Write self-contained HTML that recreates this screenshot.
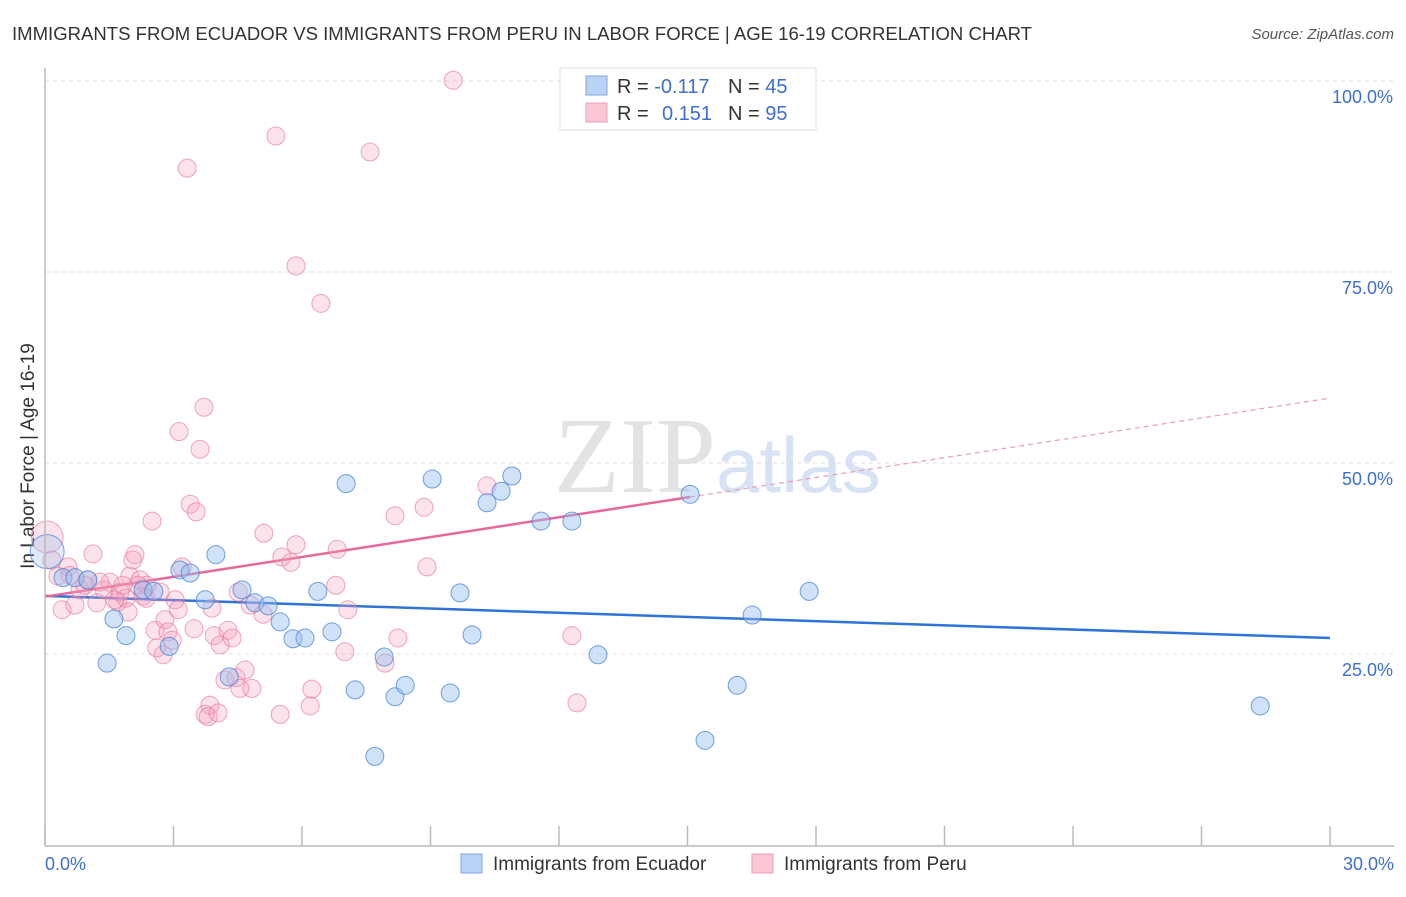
<!DOCTYPE html>
<html><head><meta charset="utf-8"><style>
body{margin:0;background:#fff;font-family:"Liberation Sans",sans-serif}
</style></head><body>
<svg id="c" width="1406" height="892" xmlns="http://www.w3.org/2000/svg">
<text x="12" y="40" font-size="18" fill="#333" textLength="1020" lengthAdjust="spacingAndGlyphs">IMMIGRANTS FROM ECUADOR VS IMMIGRANTS FROM PERU IN LABOR FORCE | AGE 16-19 CORRELATION CHART</text>
<text x="1394" y="39" font-size="15" fill="#555" font-style="italic" text-anchor="end">Source: ZipAtlas.com</text>
<text x="716" y="492" font-size="108" fill="#e3e3e3" text-anchor="end" font-family="Liberation Serif,serif">ZIP</text>
<text x="716" y="492" font-size="78" fill="#d6e3f5">atlas</text>
<text transform="translate(34,456) rotate(-90)" font-size="19" fill="#333" text-anchor="middle">In Labor Force | Age 16-19</text>
<g id="grid"></g><g id="trend"></g><g id="pts"></g>
<line x1="45" y1="68" x2="45" y2="846" stroke="#bbb" stroke-width="1.5"/>
<line x1="45" y1="846" x2="1394" y2="846" stroke="#bbb" stroke-width="1.5"/>
<text x="45" y="870" font-size="18" fill="#3d6fd1">0.0%</text>
<text x="1394" y="870" font-size="18" fill="#3d6fd1" text-anchor="end">30.0%</text>
<g>
<rect x="560" y="68" width="256" height="62" fill="#fff" stroke="#ddd"/>
<rect x="586" y="76" width="21" height="19" fill="#b9d3f5" stroke="#7ea6e0"/>
<rect x="586" y="103" width="21" height="19" fill="#fbc6d6" stroke="#ee9db6"/>
<text x="617" y="93" font-size="20" fill="#333">R = <tspan fill="#3d6fd1">-0.117</tspan><tspan x="728">N = </tspan><tspan fill="#3d6fd1">45</tspan></text>
<text x="617" y="120" font-size="20" fill="#333">R = <tspan x="662" fill="#3d6fd1">0.151</tspan><tspan x="728">N = </tspan><tspan fill="#3d6fd1">95</tspan></text>
</g>
<g>
<rect x="461" y="854" width="21" height="19" fill="#b9d3f5" stroke="#7ea6e0"/>
<text x="493" y="870" font-size="19" fill="#333">Immigrants from Ecuador</text>
<rect x="752" y="854" width="21" height="19" fill="#fbc6d6" stroke="#ee9db6"/>
<text x="784" y="870" font-size="19" fill="#333">Immigrants from Peru</text>
</g>
</svg>
<script>
const yTicks=[25,50,75,100];
const xTicks=[0,3,6,9,12,15,18,21,24,27,30];
const ecuX=[0.05,0.42,0.70,1.0,1.45,1.61,1.89,2.29,2.54,2.90,3.15,3.39,3.74,3.99,4.30,4.60,4.90,5.21,5.49,5.79,6.07,6.37,6.70,7.03,7.24,7.92,8.17,8.41,9.04,9.46,9.69,9.97,10.32,10.65,10.90,11.58,12.30,12.91,15.06,15.41,16.16,16.51,17.84,28.37,7.70];
const ecuY=[38.4,35.0,35.0,34.7,23.8,29.6,27.4,33.4,33.2,26.0,36.0,35.6,32.1,38.0,22.0,33.4,31.7,31.3,29.2,27.0,27.1,33.2,27.9,47.3,20.3,24.6,19.4,20.9,47.9,19.9,33.0,27.5,44.8,46.3,48.3,42.4,42.4,24.9,45.9,13.7,20.9,30.1,33.2,18.2,11.6];
const peruX=[0.05,0.16,0.30,0.40,0.54,0.70,0.82,1.0,1.12,1.21,1.38,1.52,1.70,1.75,1.89,1.98,2.05,2.10,2.22,2.29,2.38,2.50,2.57,2.61,2.76,2.80,2.87,2.97,3.04,3.11,3.20,3.32,3.39,3.53,3.62,3.71,3.13,3.48,3.90,3.95,4.09,4.20,4.27,4.37,4.46,4.55,4.67,4.83,3.74,3.85,3.81,4.04,4.51,4.79,5.11,5.39,5.53,5.74,5.86,5.49,5.86,6.23,6.19,6.44,6.79,6.82,7.00,7.07,7.59,7.94,8.17,8.24,8.92,8.85,9.53,10.32,12.30,12.42,0.58,0.93,1.28,1.63,1.94,2.17,1.82,2.69,2.36,5.09];
const peruY=[40.3,37.3,35.2,30.8,36.4,31.4,33.4,34.7,38.1,31.7,33.4,34.4,31.8,33.1,32.3,35.2,37.3,38.0,34.7,32.6,34.0,42.4,28.1,25.8,24.9,29.5,27.9,26.8,32.1,30.8,36.4,88.6,44.6,43.6,51.8,57.3,54.1,28.3,31.0,27.4,26.2,21.6,28.1,27.1,21.9,20.5,22.9,20.5,17.1,18.3,16.8,17.3,33.1,31.4,40.8,92.8,37.7,37.0,39.3,17.1,75.8,20.4,18.2,70.9,34.0,38.7,25.3,30.8,90.7,23.8,43.1,27.1,36.4,44.2,100.1,47.0,27.4,18.6,35.3,34.0,34.4,32.1,30.5,34.0,34.0,33.1,32.3,30.2];
const ecuTrend=[32.6,27.1];
const peruTrend=[32.5,58.5];
const peruSolidEnd=15.06;
const X=v=>45+v*(1285/30), Y=v=>845-v*7.64;
const NS='http://www.w3.org/2000/svg';
function mk(t,a,p){const e=document.createElementNS(NS,t);for(const k in a)e.setAttribute(k,a[k]);p.appendChild(e);return e;}
const grid=document.getElementById('grid');
yTicks.forEach(t=>{
 const l=mk('line',{x1:45,x2:1394,y1:Y(t),y2:Y(t),stroke:'#ddd','stroke-dasharray':'4,4'},grid);
 
 
 const tx=mk('text',{x:1393,y:Y(t)+22,'font-size':18,fill:'#3d6fd1','text-anchor':'end'},grid);
 tx.textContent=t.toFixed(1)+'%';
 
 
});
xTicks.forEach(t=>{
 const l=mk('line',{x1:X(t),x2:X(t),y1:826,y2:846,stroke:'#bbb','stroke-width':1.5},grid);
 
 
});
const pts=document.getElementById('pts');
peruX.forEach((x,i)=>{
 const c=mk('circle',{cx:X(x),cy:Y(peruY[i]),r:i==0?16:9,fill:'rgba(246,160,188,0.3)',stroke:'rgba(230,120,155,0.65)','stroke-width':1},pts);
 
 
});
ecuX.forEach((x,i)=>{
 const c=mk('circle',{cx:X(x),cy:Y(ecuY[i]),r:i==0?17:9,fill:i==0?'rgba(150,190,240,0.3)':'rgba(150,190,240,0.45)',stroke:'rgba(70,130,215,0.75)','stroke-width':1},pts);
 
 
});
const tr=document.getElementById('trend');
const pAt=x=>peruTrend[0]+(peruTrend[1]-peruTrend[0])*x/30;
let l1=mk('line',{x1:X(0),y1:Y(ecuTrend[0]),x2:X(30),y2:Y(ecuTrend[1]),stroke:'#2f72d8','stroke-width':2.5},tr);


let l2=mk('line',{x1:X(0),y1:Y(pAt(0)),x2:X(peruSolidEnd),y2:Y(pAt(peruSolidEnd)),stroke:'#e8679a','stroke-width':2.5},tr);


let l3=mk('line',{x1:X(peruSolidEnd),y1:Y(pAt(peruSolidEnd)),x2:X(30),y2:Y(pAt(30)),stroke:'#e8a0b8','stroke-width':1.2,'stroke-dasharray':'5,4'},tr);


</script>
</body></html>
